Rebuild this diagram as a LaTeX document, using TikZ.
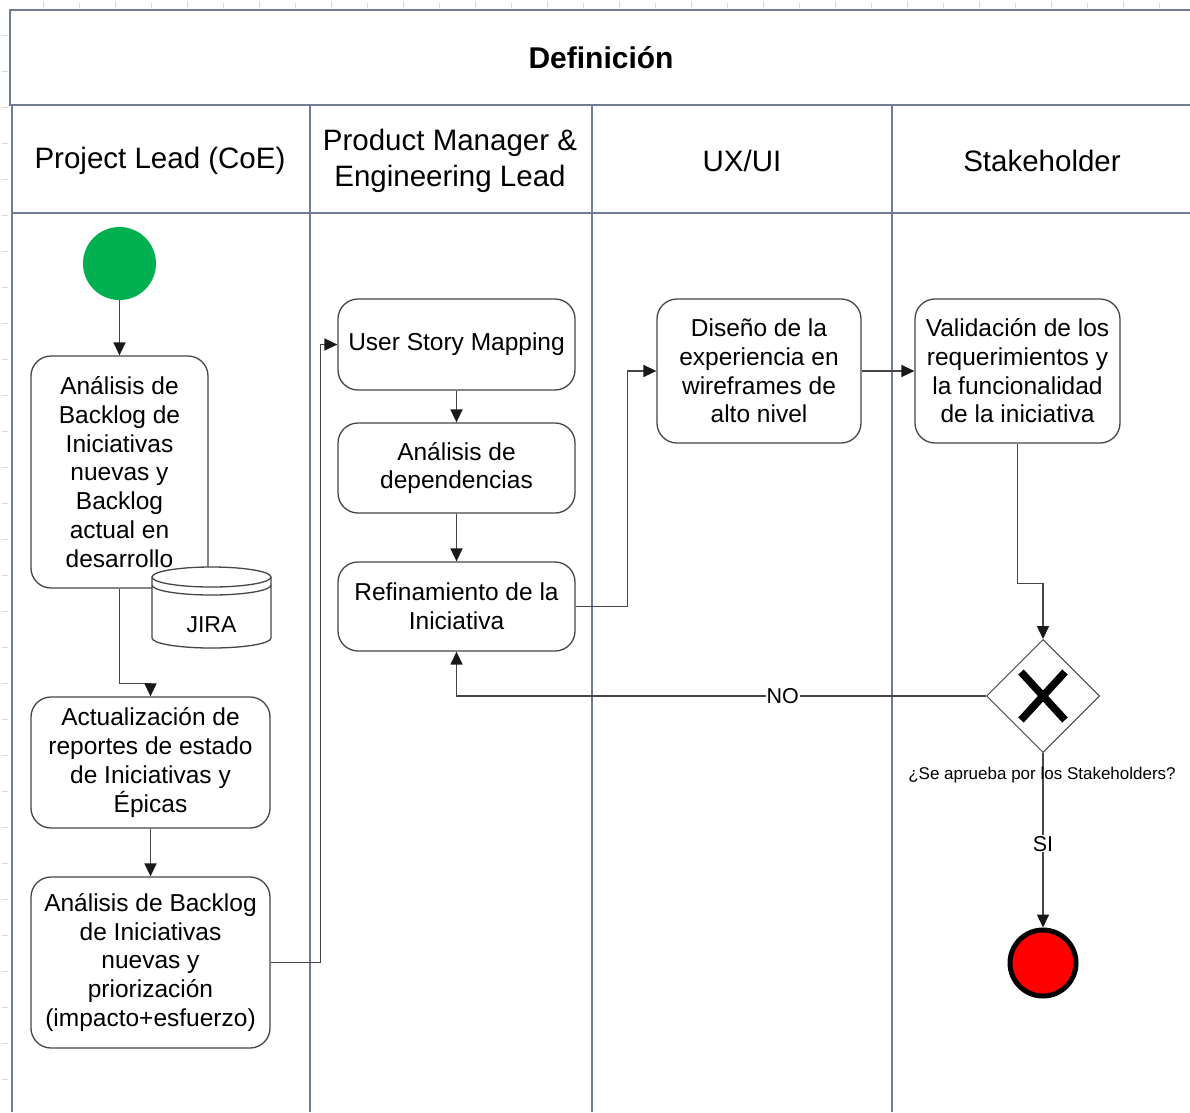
\documentclass[tikz,border=0pt]{standalone}
\usepackage{fontspec}
\setmainfont{Liberation Sans}
\usetikzlibrary{arrows.meta,shapes.geometric}
\definecolor{lanecol}{RGB}{112,124,148}
\definecolor{linecol}{RGB}{70,70,70}
\definecolor{startgreen}{RGB}{0,176,80}
\definecolor{endred}{RGB}{255,0,0}
\definecolor{tickcol}{RGB}{218,218,218}

\begin{document}
\begin{tikzpicture}[x=1pt,y=-1pt,
  lane/.style={draw=lanecol, line width=2pt},
  rulertick/.style={draw=tickcol, line width=1pt},
  task/.style={draw=linecol, line width=1.3pt, rounded corners=20pt, fill=white,
    align=center, inner sep=0pt, font=\fontsize{24.5}{28.7}\selectfont},
  flow/.style={draw=linecol, line width=1.5pt, -{Triangle[length=13pt,width=12pt,color=black!90]}},
  lanetitle/.style={align=center, font=\fontsize{29.5}{36}\selectfont},
  flowlabel/.style={fill=white, inner sep=1pt, font=\fontsize{21.5}{24}\selectfont}
]
\useasboundingbox (0,0) rectangle (1190,1112);
\fill[white] (0,0) rectangle (1190,1112);

% ruler ticks along the page edges
\foreach \i in {0,2,...,32} \draw[rulertick] (43+36*\i,1) -- (43+36*\i,8);
\foreach \i in {1,3,...,31} \draw[rulertick] (43+36*\i,3) -- (43+36*\i,8);
\foreach \i in {0,...,30} \draw[rulertick] (2,35+36*\i) -- (8,35+36*\i);

% pool frame and lanes
\draw[lane, line width=2.6pt] (9,10) -- (1190,10);
\draw[lane] (10,10) -- (10,105);
\draw[lane] (9,105) -- (1190,105);
\draw[lane] (12,105) -- (12,1112);
\draw[lane] (12,213) -- (1190,213);
\draw[lane] (310,105) -- (310,1112);
\draw[lane] (592,105) -- (592,1112);
\draw[lane] (892,105) -- (892,1112);

\node[font=\fontsize{30}{36}\selectfont\bfseries] (pooltitle) at (601,58) {Definición};
\node[lanetitle] (lane1) at (160,161) {Project Lead (CoE)};
\node[lanetitle] (lane2) at (450,161) {Product Manager \&\\Engineering Lead};
\node[lanetitle] (lane3) at (742,161) {UX/UI};
\node[lanetitle] (lane4) at (1042,161) {Stakeholder};

% events
\node[circle, fill=startgreen, minimum size=73pt, inner sep=0pt] (start) at (119.5,263.5) {};
\node[circle, draw=black, line width=5pt, fill=endred, minimum size=66pt, inner sep=0pt] (endc) at (1043,963) {};

% tasks
\node[task, minimum width=177pt, minimum height=232pt] (a1) at (119.5,472)
  {Análisis de\\Backlog de\\Iniciativas\\nuevas y\\Backlog\\actual en\\desarrollo};
\node[task, minimum width=239pt, minimum height=131pt] (a2) at (150.5,762.5)
  {Actualización de\\reportes de estado\\de Iniciativas y\\Épicas};
\node[task, minimum width=239pt, minimum height=171pt] (a3) at (150.5,962.5)
  {Análisis de Backlog\\de Iniciativas\\nuevas y\\priorización\\(impacto+esfuerzo)};
\node[task, minimum width=237pt, minimum height=91pt] (b1) at (456.5,344.5) {User Story Mapping};
\node[task, minimum width=237pt, minimum height=90pt] (b2) at (456.5,468) {Análisis de\\dependencias};
\node[task, minimum width=237pt, minimum height=89pt] (b3) at (456.5,606.5) {Refinamiento de la\\Iniciativa};
\node[task, minimum width=204pt, minimum height=144pt] (c1) at (759,371)
  {Diseño de la\\experiencia en\\wireframes de\\alto nivel};
\node[task, minimum width=205pt, minimum height=144pt] (d1) at (1017.5,371)
  {Validación de los\\requerimientos y\\la funcionalidad\\de la iniciativa};

% data store
\filldraw[draw=linecol, line width=1.3pt, fill=white]
  (152,577) -- (152,638)
  arc[start angle=180, end angle=360, x radius=59.5pt, y radius=10pt]
  -- (271,577)
  arc[start angle=0, end angle=180, x radius=59.5pt, y radius=10pt] -- cycle;
\draw[linecol, line width=1.3pt]
  (152,577) arc[start angle=180, end angle=360, x radius=59.5pt, y radius=10pt];
\draw[linecol, line width=1.3pt]
  (152,585) arc[start angle=180, end angle=360, x radius=59.5pt, y radius=10pt];
\node[font=\fontsize{23}{26}\selectfont] (jira) at (211.5,625) {JIRA};

% exclusive gateway
\node[diamond, draw=linecol, line width=1pt, fill=white, aspect=1,
      minimum width=113pt, minimum height=113pt, inner sep=0pt] (gw) at (1043,696) {};
\draw[line width=7.5pt, shift={(gw.center)}] (-22,-24) -- (22,24) (22,-24) -- (-22,24);

% sequence flows
\draw[flow] (start) -- (a1);
\draw[flow] (a1.south) -- ++(0,95) -| (a2.north);
\draw[flow] (a2) -- (a3);
\draw[flow] (a3.east) -- ++(50,0) |- (b1.west);
\draw[flow] (b1) -- (b2);
\draw[flow] (b2) -- (b3);
\draw[flow] (b3.east) -- ++(52,0) |- (c1.west);
\draw[flow] (c1) -- (d1);
\draw[flow] (d1.south) -- ++(0,140) -| (gw.north);
\draw[flow] (gw.west) -| (b3.south) node[flowlabel, pos=0.192] {NO};
\draw[flow] (gw.south) -- (endc.north) node[flowlabel, pos=0.52] {SI};

\node[font=\fontsize{17}{20}\selectfont] (gwlabel) at (1042,775) {¿Se aprueba por los Stakeholders?};
\end{tikzpicture}
\end{document}
